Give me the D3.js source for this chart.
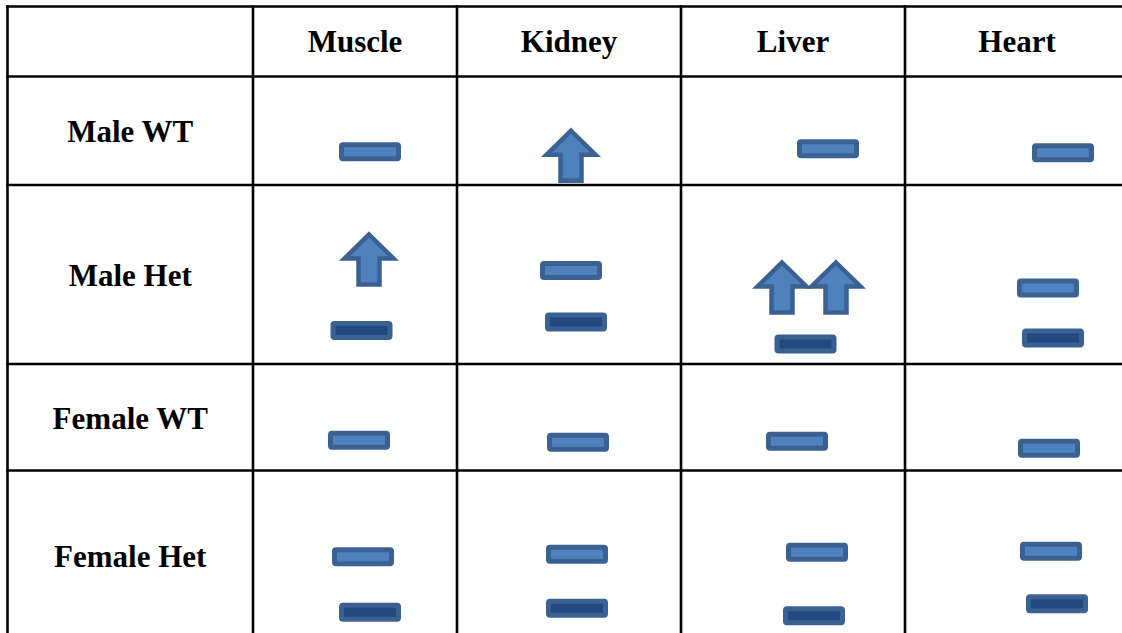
<!DOCTYPE html>
<html>
<head>
<meta charset="utf-8">
<script src="https://cdn.jsdelivr.net/npm/d3@7"></script>
<style>
  html, body { margin: 0; padding: 0; background: #fff; }
  svg { display: block; }
</style>
</head>
<body>
<svg id="chart" width="1122" height="633"></svg>
<script>
// ---- data ----
const columns = ["Muscle", "Kidney", "Liver", "Heart"];
const rows = ["Male WT", "Male Het", "Female WT", "Female Het"];
// symbol per cell: "up" = increase arrow, "eq" = no change (light), "eqDark" = no change (dark)
const maleWT    = [["eq"], ["up"], ["eq"], ["eq"]];
const maleHet   = [["up", "eqDark"], ["eq", "eqDark"], ["up", "up", "eqDark"], ["eq", "eqDark"]];
const femaleWT  = [["eq"], ["eq"], ["eq"], ["eq"]];
const femaleHet = [["eq", "eqDark"], ["eq", "eqDark"], ["eq", "eqDark"], ["eq", "eqDark"]];
const rowSymbols = [maleWT, maleHet, femaleWT, femaleHet];

// ---- layout (positions only) ----
const colEdges = [7.5, 253, 457, 681, 905, 1129];
const rowEdges = [6.5, 76.5, 185, 364, 470.5, 640];
// marker offsets from cell centre [dx, dy], same shape as symbol arrays
const offsets = [
  [[[15, 21]], [[2, 25]], [[35, 18]], [[46, 22]]],
  [[[14, -15], [6.5, 56]], [[2, -4], [7, 47.5]], [[-11, 13], [43, 13], [12.5, 69.5]], [[31, 13.5], [36, 63.5]]],
  [[[4, 23]], [[9, 25]], [[4, 24]], [[32, 31]]],
  [[[8, 1.5], [15, 57]], [[8, -1], [8, 53]], [[24, -3], [21, 60.5]], [[34, -4], [40, 48.5]]]
];

const svg = d3.select("#chart");

const allCols = ["", ...columns];
const allRows = ["", ...rows];
const xCenter = d3.scaleOrdinal().domain(allCols).range(allCols.map((c, i) => (colEdges[i] + colEdges[i + 1]) / 2));
const yCenter = d3.scaleOrdinal().domain(allRows).range(allRows.map((r, i) => (rowEdges[i] + rowEdges[i + 1]) / 2));

const font = "'Liberation Serif', 'Times New Roman', serif";

// grid lines
const grid = svg.append("g").attr("stroke", "#000").attr("stroke-width", 2.6);
colEdges.forEach(x => grid.append("line").attr("x1", x).attr("x2", x).attr("y1", rowEdges[0] - 1.3).attr("y2", 640));
rowEdges.slice(0, 5).forEach(y => grid.append("line").attr("x1", colEdges[0] - 1.3).attr("x2", 1130).attr("y1", y).attr("y2", y));

// header labels
svg.append("g").selectAll("text").data(columns).join("text")
  .attr("x", d => xCenter(d)).attr("y", yCenter(""))
  .attr("text-anchor", "middle").attr("dominant-baseline", "central")
  .attr("font-family", font).attr("font-weight", "bold").attr("font-size", 31)
  .attr("fill", "#000").text(d => d);

// row labels
svg.append("g").selectAll("text").data(rows).join("text")
  .attr("x", xCenter("")).attr("y", d => yCenter(d) + 1)
  .attr("text-anchor", "middle").attr("dominant-baseline", "central")
  .attr("font-family", font).attr("font-weight", "bold").attr("font-size", 31)
  .attr("fill", "#000").text(d => d);

// symbols
const strokeCol = "#3b6192";
const lightFill = "#4f81bd";
const darkFill = "#234a80";
const barW = 57, barH = 14;
const arrowW = 49, arrowH = 50, headH = 24, shaftW = 21;
const arrowPath = d3.path();
arrowPath.moveTo(0, -arrowH / 2);
arrowPath.lineTo(arrowW / 2, -arrowH / 2 + headH);
arrowPath.lineTo(shaftW / 2, -arrowH / 2 + headH);
arrowPath.lineTo(shaftW / 2, arrowH / 2);
arrowPath.lineTo(-shaftW / 2, arrowH / 2);
arrowPath.lineTo(-shaftW / 2, -arrowH / 2 + headH);
arrowPath.lineTo(-arrowW / 2, -arrowH / 2 + headH);
arrowPath.closePath();

const markers = [];
rowSymbols.forEach((rowArr, ri) => {
  rowArr.forEach((cell, ci) => {
    cell.forEach((sym, k) => {
      markers.push({ row: rows[ri], col: columns[ci], sym, off: offsets[ri][ci][k] });
    });
  });
});

const mg = svg.append("g");
markers.forEach(m => {
  const cx = xCenter(m.col) + m.off[0];
  const cy = yCenter(m.row) + m.off[1];
  if (m.sym === "up") {
    mg.append("path").attr("d", arrowPath.toString())
      .attr("transform", `translate(${cx},${cy})`)
      .attr("fill", lightFill).attr("stroke", strokeCol).attr("stroke-width", 4.5)
      .attr("stroke-linejoin", "miter");
  } else {
    mg.append("rect")
      .attr("x", cx - barW / 2).attr("y", cy - barH / 2)
      .attr("width", barW).attr("height", barH).attr("rx", 1.5)
      .attr("fill", m.sym === "eq" ? lightFill : darkFill)
      .attr("stroke", strokeCol).attr("stroke-width", 5);
  }
});
</script>
</body>
</html>
